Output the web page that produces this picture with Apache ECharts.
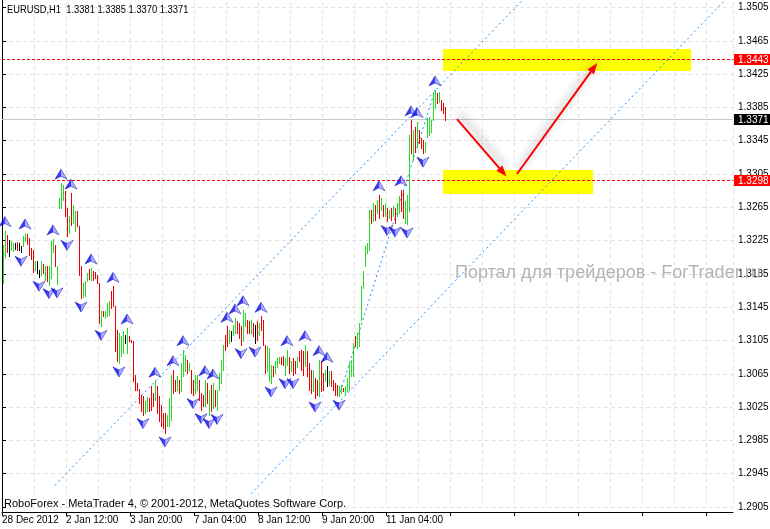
<!DOCTYPE html>
<html><head><meta charset="utf-8">
<script src="https://cdn.jsdelivr.net/npm/echarts@6/dist/echarts.min.js"></script>
<style>html,body{margin:0;padding:0;background:#fff}#c{width:770px;height:529px}</style>
</head><body><div id="c"></div>
<script>
// ---------- DATA ----------
const xLabels = ['28 Dec 2012','2 Jan 12:00','3 Jan 20:00','7 Jan 04:00','8 Jan 12:00','9 Jan 20:00','11 Jan 04:00'];
const barHigh = [
1.3220,1.3237,1.3232,1.3226,1.3225,1.3222,1.3222,1.3223,1.3222,1.3219,
1.3231,1.3234,1.3233,1.3228,1.3216,1.3214,1.3200,1.3200,1.3190,1.3200,
1.3197,1.3194,1.3195,1.3195,1.3224,1.3227,1.3220,1.3195,1.3276,1.3294,
1.3292,1.3284,1.3264,1.3254,1.3282,1.3268,1.3260,1.3260,1.3242,1.3194,
1.3174,1.3176,1.3186,1.3191,1.3192,1.3188,1.3187,1.3184,1.3174,1.3140,
1.3141,1.3140,1.3150,1.3152,1.3164,1.3170,1.3146,1.3118,1.3114,1.3110,
1.3117,1.3112,1.3120,1.3110,1.3106,1.3104,1.3064,1.3054,1.3047,1.3040,
1.3038,1.3032,1.3037,1.3036,1.3050,1.3042,1.3056,1.3050,1.3038,1.3028,
1.3018,1.3018,1.3016,1.3036,1.3064,1.3070,1.3058,1.3062,1.3058,1.3078,
1.3094,1.3088,1.3082,1.3078,1.3070,1.3058,1.3063,1.3063,1.3058,1.3042,
1.3040,1.3058,1.3054,1.3046,1.3052,1.3054,1.3046,1.3046,1.3066,1.3082,
1.3100,1.3112,1.3122,1.3118,1.3116,1.3124,1.3132,1.3128,1.3126,1.3122,
1.3142,1.3138,1.3130,1.3128,1.3130,1.3126,1.3124,1.3128,1.3126,1.3134,
1.3130,1.3100,1.3098,1.3096,1.3076,1.3074,1.3080,1.3084,1.3085,1.3085,
1.3086,1.3084,1.3094,1.3085,1.3080,1.3084,1.3080,1.3085,1.3092,1.3094,
1.3092,1.3100,1.3092,1.3078,1.3070,1.3070,1.3060,1.3058,1.3082,1.3080,
1.3066,1.3070,1.3074,1.3068,1.3068,1.3058,1.3054,1.3052,1.3050,1.3052,
1.3048,1.3050,1.3060,1.3078,1.3082,1.3102,1.3110,1.3114,1.3126,1.3170,
1.3188,1.3218,1.3222,1.3262,1.3262,1.3270,1.3268,1.3274,1.3280,1.3276,
1.3268,1.3270,1.3264,1.3262,1.3264,1.3266,1.3264,1.3270,1.3278,1.3286,
1.3284,1.3272,1.3280,1.3352,1.3370,1.3358,1.3362,1.3368,1.3358,1.3348,
1.3346,1.3344,1.3372,1.3374,1.3370,1.3402,1.3406,1.3402,1.3404,1.3394,
1.3390,1.3385];
const barLow = [
1.3174,1.3205,1.3211,1.3207,1.3214,1.3212,1.3215,1.3214,1.3214,1.3211,
1.3219,1.3224,1.3221,1.3208,1.3203,1.3187,1.3190,1.3186,1.3181,1.3184,
1.3186,1.3178,1.3177,1.3172,1.3180,1.3211,1.3194,1.3173,1.3264,1.3264,
1.3274,1.3254,1.3230,1.3234,1.3244,1.3246,1.3236,1.3242,1.3184,1.3156,
1.3157,1.3158,1.3176,1.3179,1.3178,1.3178,1.3180,1.3174,1.3126,1.3122,
1.3134,1.3132,1.3134,1.3136,1.3144,1.3146,1.3092,1.3080,1.3078,1.3086,
1.3090,1.3102,1.3090,1.3104,1.3103,1.3056,1.3046,1.3046,1.3030,1.3020,
1.3016,1.3018,1.3020,1.3020,1.3022,1.3026,1.3034,1.3018,1.3008,1.3002,
1.3000,1.2994,1.3002,1.3002,1.3010,1.3042,1.3044,1.3046,1.3042,1.3044,
1.3062,1.3068,1.3066,1.3068,1.3042,1.3040,1.3042,1.3046,1.3034,1.3022,
1.3026,1.3026,1.3030,1.3016,1.3020,1.3024,1.3026,1.3021,1.3046,1.3054,
1.3070,1.3094,1.3098,1.3102,1.3104,1.3112,1.3114,1.3114,1.3108,1.3100,
1.3104,1.3122,1.3114,1.3114,1.3114,1.3110,1.3102,1.3106,1.3112,1.3118,
1.3100,1.3066,1.3068,1.3056,1.3054,1.3062,1.3066,1.3073,1.3078,1.3077,
1.3076,1.3064,1.3076,1.3066,1.3068,1.3064,1.3066,1.3073,1.3080,1.3070,
1.3064,1.3074,1.3062,1.3046,1.3042,1.3044,1.3036,1.3040,1.3038,1.3044,
1.3046,1.3056,1.3050,1.3052,1.3050,1.3046,1.3040,1.3040,1.3038,1.3042,
1.3044,1.3040,1.3044,1.3046,1.3062,1.3062,1.3098,1.3096,1.3098,1.3130,
1.3168,1.3194,1.3210,1.3214,1.3246,1.3248,1.3250,1.3258,1.3252,1.3262,
1.3254,1.3254,1.3248,1.3252,1.3250,1.3254,1.3246,1.3254,1.3258,1.3260,
1.3252,1.3246,1.3245,1.3260,1.3330,1.3322,1.3332,1.3338,1.3342,1.3336,
1.3330,1.3332,1.3350,1.3352,1.3356,1.3370,1.3384,1.3390,1.3392,1.3382,
1.3378,1.3370];
// G = up bar, R = down bar, B = unchanged
const barDir =
 'GGRBGGBRBB'+'GGRRRRGBBG'+'RGRGGGRGGG'+'GRRGRGGRRR'+'GGGRGRRRRG'+
 'RGGGRRRRGG'+'GBGRRRRRRR'+'RGGRRRGRRR'+'RRGGGRRGRG'+'GGRGRRGGRR'+
 'RGRGRGRGGG'+'GRRGBGGRRR'+'GGRRGRBRGR'+'RRGGGRGGGR'+'RGGRGRRGRR'+
 'RGRRRGRRGR'+'RGBGRRRRGG'+'RGGGGGRGGG'+'GGGGRGRGRG'+'RGRGRGRGGR'+
 'RGGGRGRGRR'+'RGGGGGGRGR'+'RR';
const fractalUp = [1,11,25,29,34,44,55,62,76,85,90,101,105,112,116,120,129,142,151,158,162,188,199,204,207,216];
const fractalDown = [9,18,23,27,32,39,49,58,70,81,95,99,103,107,119,126,134,141,145,156,168,192,196,202,210];
const levelLines = [1.3443, 1.3298];
const currentPrice = 1.3371;
const zones = [[220, 344, 1.3455, 1.3428], [220, 295, 1.3310, 1.3281]];
const arrowLines = [[[227, 1.3371], [250, 1.3307]], [[257, 1.3305], [295.5, 1.3433]]];
const trendLines = [[[26, 1.2931], [271, 1.3542]], [[124, 1.2921], [365, 1.3524]], [[168, 1.3038], [216, 1.3406]]];
const yMin = 1.2905, yMax = 1.3545, yStep = 0.004;
const titleText = 'EURUSD,H1  1.3381 1.3385 1.3370 1.3371';
const copyrightText = 'RoboForex - MetaTrader 4, \u00A9 2001-2012, MetaQuotes Software Corp.';
const watermarkText = '\u041F\u043E\u0440\u0442\u0430\u043B \u0434\u043B\u044F \u0442\u0440\u0435\u0439\u0434\u0435\u0440\u043E\u0432 - ForTrader.ru';

// ---------- STYLE ----------
const GREEN = '#22dd22', RED = '#ee0000';
const AXFONT = "'Liberation Sans', Arial, sans-serif";
const AXSIZE = 10;
const GRIDC = '#e2e2e2';

const chart = echarts.init(document.getElementById('c'), null, {renderer: 'canvas'});

const upPath = 'path://M6,0 L12,10 L6,7 L0,10 Z';
const downPath = 'path://M0,0 L6,3 L12,0 L6,10 Z';
const markerColor = {type: 'linear', x: 0, y: 0, x2: 1, y2: 0,
  colorStops: [{offset: 0, color: '#0000d8'}, {offset: 0.5, color: '#1010ff'}, {offset: 0.53, color: '#8c8cff'}, {offset: 1, color: '#c8c8ff'}]};

// level lines: [x, price, kind] kind 0 = drawn level (red), 1 = current bid (grey)
const levelData = levelLines.map(function (v) { return [-0.5, v, 0]; }).concat([[-0.5, currentPrice, 1]]);

const option = {
  animation: false,
  backgroundColor: '#ffffff',
  grid: [
    {left: 2, right: 37, top: -25.8, bottom: 22, containLabel: false, outerBoundsMode: 'none'},
    {left: 2, right: 37, top: 0, bottom: 17, containLabel: false, outerBoundsMode: 'none'}
  ],
  xAxis: [
    {type: 'value', gridIndex: 0, min: -0.5, max: 365, interval: 32, position: 'bottom', offset: 5,
      axisLine: {show: false},
      axisTick: {show: true, length: 4, lineStyle: {color: '#000'}},
      axisLabel: {show: true, margin: 3, align: 'left', color: '#000', fontFamily: AXFONT, fontSize: AXSIZE,
        showMinLabel: true, showMaxLabel: false,
        formatter: function (v) {
          const k = Math.round((v + 0.5) / 32);
          return (Math.abs(v + 0.5 - 32 * k) < 0.01 && k < xLabels.length) ? xLabels[k] : '';
        }},
      splitLine: {show: true, lineStyle: {color: GRIDC, type: [4, 3], width: 1}},
      minorTick: {show: false, splitNumber: 2},
      minorSplitLine: {show: true, lineStyle: {color: GRIDC, type: [4, 3], width: 1}}
    },
    {type: 'value', gridIndex: 1, min: 0, max: 1, axisLine: {show: true, lineStyle: {color: '#000'}},
      axisTick: {show: false}, axisLabel: {show: false}, splitLine: {show: false}}
  ],
  yAxis: [
    {type: 'value', gridIndex: 0, position: 'right', min: yMin, max: yMax, interval: yStep,
      axisLine: {show: false},
      axisTick: {show: true, length: 3, lineStyle: {color: '#000'}},
      axisLabel: {margin: 5, color: '#000', fontFamily: AXFONT, fontSize: AXSIZE,
        formatter: function (v) { return v.toFixed(4); }},
      splitLine: {show: true, lineStyle: {color: GRIDC, type: [4, 3], width: 1}}
    },
    {type: 'value', gridIndex: 1, position: 'right', min: 0, max: 1, axisLine: {show: true, lineStyle: {color: '#000'}},
      axisTick: {show: false}, axisLabel: {show: false}, splitLine: {show: false}},
    {type: 'value', gridIndex: 1, position: 'left', min: 0, max: 1, axisLine: {show: true, lineStyle: {color: '#000'}},
      axisTick: {show: false}, axisLabel: {show: false}, splitLine: {show: false}}
  ],
  graphic: [
    {type: 'text', x: 7, y: 4, scaleX: 0.85, z: 100, style: {text: titleText, fill: '#000', font: "11px 'Liberation Sans', Arial, sans-serif"}},
    {type: 'text', left: 4, top: 498, z: 100, style: {text: copyrightText, fill: '#000', font: "11px 'Liberation Sans', Arial, sans-serif"}},
    {type: 'text', left: 455, top: 264, z: 100, style: {text: watermarkText, fill: '#b4b4b4', font: "18px 'Liberation Sans', Arial, sans-serif"}}
  ],
  series: [
    { // yellow target zones
      type: 'custom', name: 'zones', xAxisIndex: 0, yAxisIndex: 0, z: 1, silent: true,
      data: zones, encode: {x: [0, 1], y: [2, 3]},
      renderItem: function (params, api) {
        const p1 = api.coord([api.value(0), api.value(2)]);
        const p2 = api.coord([api.value(1), api.value(3)]);
        return {type: 'rect', shape: {x: Math.round(p1[0]), y: Math.round(p1[1]), width: Math.round(p2[0] - p1[0]), height: Math.round(p2[1] - p1[1])},
          style: {fill: '#ffff00'}};
      }
    },
    { // horizontal levels with price tags on the axis
      type: 'custom', name: 'levels', xAxisIndex: 0, yAxisIndex: 0, z: 3, silent: true, clip: false,
      data: levelData, encode: {x: 0, y: 1},
      renderItem: function (params, api) {
        const v = api.value(1);
        const kind = api.value(2);
        const p = api.coord([api.value(0), v]);
        const cs = params.coordSys;
        const yy = Math.round(p[1]);
        const right = cs.x + cs.width;
        return {type: 'group', children: [
          {type: 'line', shape: {x1: cs.x, y1: yy + 0.5, x2: right, y2: yy + 0.5},
            style: {stroke: kind === 0 ? '#ff0000' : '#c8c8c8', lineWidth: 1, lineDash: kind === 0 ? [3, 2] : null}},
          {type: 'rect', shape: {x: right + 1, y: yy - 5, width: 37, height: 11},
            style: {fill: kind === 0 ? '#ff0000' : '#000000'}},
          {type: 'text', x: right + 5, y: yy + 1,
            style: {text: v.toFixed(4), fill: '#ffffff', font: AXSIZE + "px 'Liberation Sans', Arial, sans-serif", verticalAlign: 'middle', textVerticalAlign: 'middle'}}
        ]};
      }
    },
    { // trend lines (channel)
      type: 'line', data: [], xAxisIndex: 0, yAxisIndex: 0, z: 4, silent: true,
      markLine: {silent: true, symbol: ['none', 'none'], animation: false, label: {show: false},
        lineStyle: {color: '#1e90ff', type: [2, 3], width: 1},
        data: trendLines.map(function (l) { return [{coord: l[0]}, {coord: l[1]}]; })
      }
    },
    { // bars
      type: 'custom', name: 'EURUSD', xAxisIndex: 0, yAxisIndex: 0, z: 5, silent: true,
      data: barHigh.map(function (h, i) { return [i, h, barLow[i]]; }),
      encode: {x: 0, y: [1, 2]},
      renderItem: function (params, api) {
        const i = api.value(0);
        const top = api.coord([i, api.value(1)]);
        const bot = api.coord([i, api.value(2)]);
        const d = barDir[i];
        const col = d === 'G' ? GREEN : (d === 'R' ? RED : '#000000');
        const y0 = Math.round(top[1]);
        const y1 = Math.round(bot[1]);
        return {type: 'rect', shape: {x: Math.round(top[0]), y: y0, width: 1, height: Math.max(1, y1 - y0 + 1)}, style: {fill: col}};
      }
    },
    { // up fractals
      type: 'scatter', xAxisIndex: 0, yAxisIndex: 0, z: 6, silent: true,
      symbol: upPath, symbolSize: [12, 10], symbolOffset: [0, -9],
      itemStyle: {color: markerColor, borderColor: '#0000b0', borderWidth: 0.6},
      data: fractalUp.map(function (i) { return [i, barHigh[i]]; })
    },
    { // down fractals
      type: 'scatter', xAxisIndex: 0, yAxisIndex: 0, z: 6, silent: true,
      symbol: downPath, symbolSize: [12, 10], symbolOffset: [0, 9],
      itemStyle: {color: markerColor, borderColor: '#0000b0', borderWidth: 0.6},
      data: fractalDown.map(function (i) { return [i, barLow[i]]; })
    },
    { // forecast arrows
      type: 'line', data: [], xAxisIndex: 0, yAxisIndex: 0, z: 7, silent: true,
      markLine: {silent: true, symbol: ['none', 'triangle'], symbolSize: [8, 11], animation: false, label: {show: false},
        itemStyle: {color: '#ff0000'},
        lineStyle: {color: '#ff0000', type: 'solid', width: 2, shadowColor: 'rgba(0,0,0,0.45)', shadowBlur: 8, shadowOffsetX: 2, shadowOffsetY: -6},
        data: arrowLines.map(function (l) { return [{coord: l[0]}, {coord: l[1]}]; })
      }
    }
  ]
};
chart.setOption(option);
</script>
</body></html>
